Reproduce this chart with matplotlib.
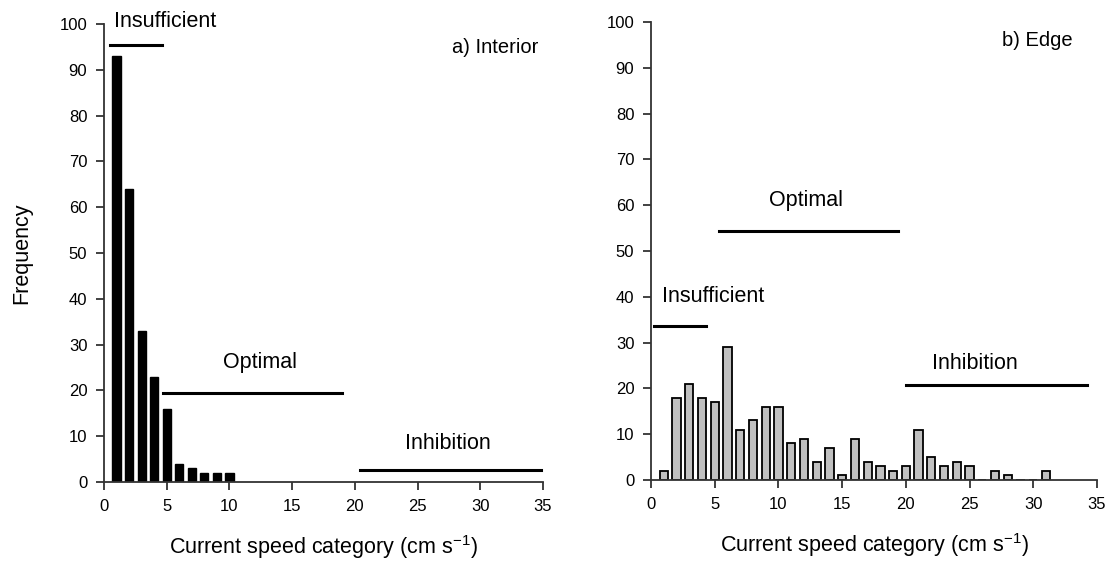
import numpy as np
import matplotlib.pyplot as plt

plt.rcParams['font.family'] = ['Liberation Sans', 'DejaVu Sans']

# current speed categories (cm/s)
interior_x = list(range(1, 11))
interior_freq = [93, 64, 33, 23, 16, 4, 3, 2, 2, 2]

edge_x = list(range(1, 32))
edge_freq = [2, 18, 21, 18, 17, 29, 11, 13, 16, 16, 8, 9, 4, 7, 1, 9,
             4, 3, 2, 3, 11, 5, 3, 4, 3, 0, 2, 1, 0, 0, 2]

# threshold bands: (label, x start, x end, line y, text x, text y)
interior_bands = [
    ("Insufficient", 0.5, 4.6, 95.5, 4.9, 100.5),
    ("Optimal", 4.7, 19.0, 19.4, 12.4, 26.0),
    ("Inhibition", 20.4, 34.8, 2.6, 27.4, 8.5),
]
edge_bands = [
    ("Insufficient", 0.25, 4.3, 33.6, 4.9, 40.0),
    ("Optimal", 5.3, 19.4, 54.4, 12.2, 61.0),
    ("Inhibition", 20.0, 34.2, 20.7, 25.4, 25.5),
]

fig = plt.figure(figsize=(11.1, 5.61), dpi=100)
ax1 = fig.add_axes([0.0937, 0.1408, 0.3955, 0.8162])
ax2 = fig.add_axes([0.5865, 0.1444, 0.4018, 0.8164])


def style(ax):
    ax.set_xlim(0, 35)
    ax.set_ylim(0, 100)
    ax.set_xticks(range(0, 36, 5))
    ax.set_yticks(range(0, 101, 10))
    for s in ['top', 'right']:
        ax.spines[s].set_visible(False)
    for s in ['left', 'bottom']:
        ax.spines[s].set_linewidth(1.3)
        ax.spines[s].set_color('#333333')
    ax.tick_params(direction='out', length=6, width=1.3, color='#333333',
                   labelsize=12, pad=6)
    ax.set_xlabel("Current speed category (cm s$^{\\mathregular{-1}}$)",
                  fontsize=15.5, labelpad=14)


style(ax1)
style(ax2)

ax1.bar(interior_x, interior_freq, width=0.65, color='black', edgecolor='black')
ax2.bar(edge_x, edge_freq, width=0.65, color='#c0c0c0', edgecolor='black', linewidth=1.3)

for ax, bands in [(ax1, interior_bands), (ax2, edge_bands)]:
    for label, x0, x1, y, tx, ty in bands:
        ax.plot([x0, x1], [y, y], color='black', lw=2.2, clip_on=False)
        ax.text(tx, ty, label, ha='center', va='center', fontsize=15.5, clip_on=False)

ax1.text(31.2, 95, "a) Interior", ha='center', va='center', fontsize=14.5)
ax2.text(30.3, 96, "b) Edge", ha='center', va='center', fontsize=14.5)

ax1.set_ylabel("Frequency", fontsize=15.5, labelpad=20)

fig.savefig("out.png", dpi=100)
